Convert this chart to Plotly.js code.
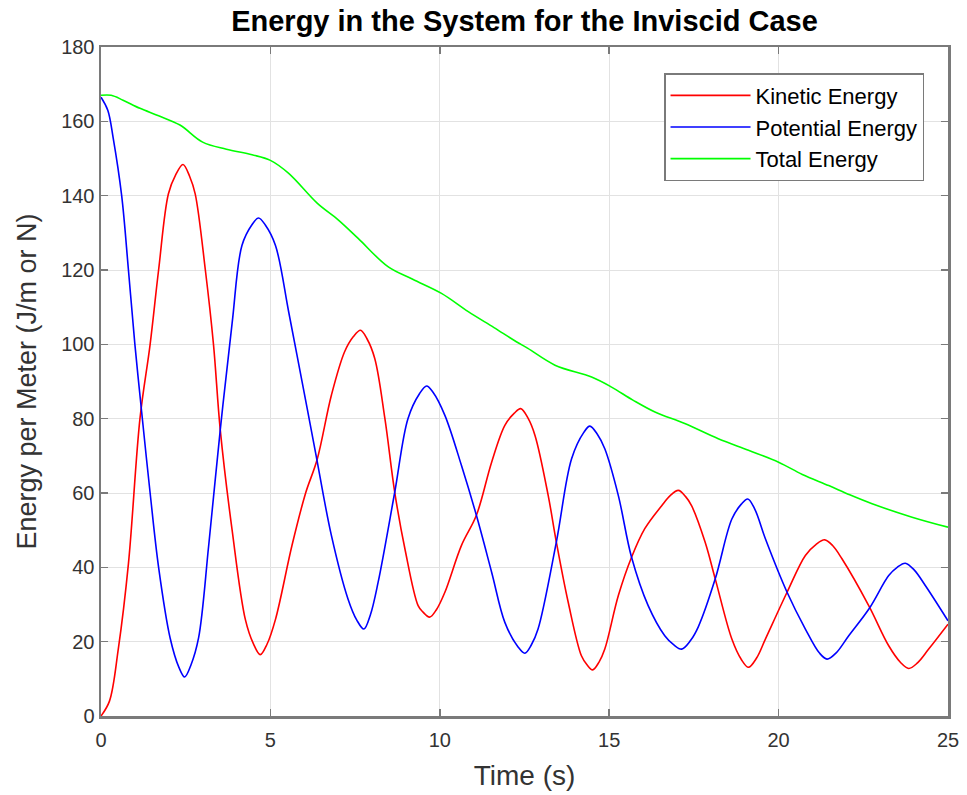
<!DOCTYPE html>
<html>
<head>
<meta charset="utf-8">
<script src="https://cdn.plot.ly/plotly-3.0.1.min.js"></script>
<style>html,body{margin:0;padding:0;background:#fff;}#chart{width:967px;height:795px;}</style>
</head>
<body>
<div id="chart"></div>
<script>
// Kinetic energy (red) — time (s) and value (J/m)
const timeKinetic = [0,0.25,0.51,0.81,1.15,1.45,1.7,1.99,2.2,2.42,2.62,2.78,3.08,3.32,3.52,3.87,4.26,4.5,4.7,4.9,5.15,5.64,6.04,6.38,6.8,7.19,7.45,7.66,7.85,8.08,8.38,8.67,8.97,9.36,9.5,9.7,9.9,10.15,10.64,11.08,11.53,11.92,12.2,12.39,12.6,12.81,13.2,13.44,13.79,14.18,14.35,14.51,14.7,14.87,15.27,15.66,16.05,16.55,16.8,17.04,17.25,17.43,17.83,18.13,18.62,18.9,19.11,19.35,19.61,20.25,20.79,21.1,21.36,21.6,21.87,22.66,23.25,23.6,23.84,24.1,24.43,25];
const kinetic = [0,4,18,41,80,100,120,140.5,145.5,148.4,145.1,140.5,120,100,77,50,26,19.4,16.5,19.3,26,46,60,69,86.3,98,102.1,103.8,101.5,96.2,80,60.2,45,29.7,28,26.6,28.6,33.3,45.9,54,68.3,78.2,81.5,82.7,80.2,75.5,59.3,46.8,30.6,16.2,13.7,12.4,14.5,18,32.4,42.7,50.4,56.6,59.3,60.7,59.1,56.6,46.8,36.9,20.7,15.2,13.1,15.6,20.7,33.3,43.2,46.1,47.4,45.8,42.3,29.7,18.9,14.4,12.8,14.3,18,24.7];

// Potential energy (blue)
const timePotential = [0,0.2,0.36,0.61,0.81,1.0,1.2,1.45,1.7,2.04,2.3,2.47,2.65,2.88,3.18,3.52,3.87,4.16,4.45,4.65,4.85,5.15,5.54,5.94,6.33,6.8,7.29,7.55,7.76,7.95,8.18,8.67,9.06,9.4,9.61,9.8,10.15,10.64,11.08,11.53,11.92,12.3,12.51,12.7,12.9,13.44,13.89,14.25,14.43,14.65,14.87,15.27,15.66,16.15,16.64,16.9,17.14,17.4,17.63,18.13,18.62,18.9,19.09,19.3,19.61,20.25,20.79,21.2,21.43,21.7,22.07,22.68,23.25,23.5,23.74,24.0,24.33,25];
const potential = [166.5,163,155.5,140,120,100,81.8,60,40,21,13.1,10.5,13.6,21,46,77,105.7,126.6,132.1,134,132.1,126.6,108.7,89.7,71,48.6,31.5,25.8,23.4,27.2,36,60.2,80,86.7,88.8,87.1,80.9,67.4,54,38.7,25.2,18.7,16.9,19.1,23.4,46.8,69.2,76.3,78,75.8,71.9,59.3,42.7,29.7,21.6,19.2,18,20.3,24,36.9,53,57,58.4,55.6,47.7,33.3,23.4,17,15.3,17,21.6,29,37.8,40,41.1,39.3,35.1,25.6];

// Total energy (green)
const timeTotal = [0,0.3,0.65,1.15,1.7,2.33,3.0,3.7,4.46,5.0,5.54,6.38,7.0,7.59,8.47,9.2,10.05,10.84,11.6,12.26,12.6,13.4,14.48,15.07,15.7,16.35,17.23,18.22,19.11,20,20.7,21.48,22.1,22.76,23.94,25];
const total = [167,167,165.7,163.5,161.5,159,154.4,152.5,151,149.5,146,138,133.5,128.5,120.9,117.5,113.7,108.8,104.5,100.7,98.9,94.4,91.2,88.5,85,81.8,78.7,74.6,71.5,68.3,65,62,59.5,57.1,53.5,50.8];

const seriesNames = ['Kinetic Energy','Potential Energy','Total Energy'];
const xTicks = [0,5,10,15,20,25];
const yTicks = [0,20,40,60,80,100,120,140,160,180];

const font = 'Liberation Sans, Arial, Helvetica, sans-serif';
const lineStyle = c => ({color: c, width: 1.6, shape: 'spline', smoothing: 1.0});

const traces = [
  {x: timeKinetic, y: kinetic, name: seriesNames[0], type: 'scatter', mode: 'lines', line: lineStyle('#ff0000')},
  {x: timePotential, y: potential, name: seriesNames[1], type: 'scatter', mode: 'lines', line: lineStyle('#0000ff')},
  {x: timeTotal, y: total, name: seriesNames[2], type: 'scatter', mode: 'lines', line: lineStyle('#00ff00')}
];

const axisCommon = {
  showline: true, linecolor: '#7a7a7a', linewidth: 2.5, mirror: 'ticks',
  ticks: 'inside', ticklen: 7, tickcolor: '#7a7a7a', tickwidth: 1.5,
  showgrid: true, gridcolor: '#e2e2e2', gridwidth: 1,
  zeroline: false, tickfont: {family: font, size: 20, color: '#333'}
};

const layout = {
  width: 967, height: 795,
  margin: {l: 101, r: 19, t: 47, b: 79},
  paper_bgcolor: '#fff', plot_bgcolor: '#fff',
  title: {text: '<b>Energy in the System for the Inviscid Case</b>', font: {family: font, size: 29, color: '#000'},
          x: 0.5, xref: 'paper', y: 1 - 21/795, yref: 'container', yanchor: 'middle'},
  xaxis: Object.assign({}, axisCommon, {range: [0, 25], tickvals: xTicks, ticktext: xTicks.map(String),
    ticklabelstandoff: 4,
    title: {text: 'Time (s)', font: {family: font, size: 28, color: '#333'}, standoff: 16}}),
  yaxis: Object.assign({}, axisCommon, {range: [0, 180], tickvals: yTicks, ticktext: yTicks.map(String),
    title: {text: 'Energy per Meter (J/m or N)', font: {family: font, size: 27, color: '#333'}, standoff: 17}}),
  showlegend: true,
  legend: {x: 0.9717, y: 0.961, xanchor: 'right', yanchor: 'top', bgcolor: '#fff',
           bordercolor: '#7a7a7a', borderwidth: 1.5, font: {family: font, size: 22, color: '#000'},
           itemwidth: 80, tracegroupgap: 0}
};

Plotly.newPlot('chart', traces, layout, {displayModeBar: false, staticPlot: true});
</script>
</body>
</html>
